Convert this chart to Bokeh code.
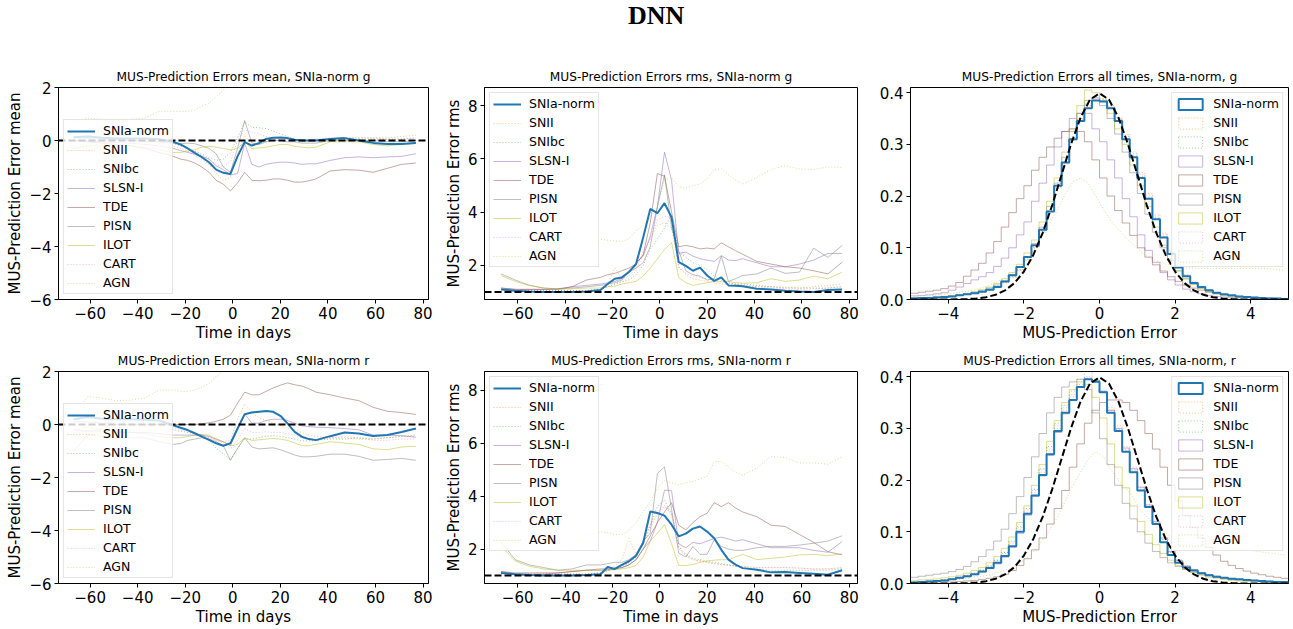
from bokeh.plotting import figure
from bokeh.models import (Legend, LegendItem, Span, FixedTicker, Div, Range1d,
                          CustomJSTickFormatter, PrintfTickFormatter)
from bokeh.layouts import column, row
from bokeh.embed import file_html
from bokeh.resources import INLINE

CLASSES = ["SNIa-norm", "SNII", "SNIbc", "SLSN-I", "TDE", "PISN", "ILOT", "CART", "AGN"]
COLORS = ["#1f77b4", "#ff7f0e", "#2ca02c", "#9467bd", "#8c564b", "#7f7f7f", "#bcbd22", "#e377c2", "#9acd32"]
DOTTED = ["SNII", "SNIbc", "CART", "AGN"]

DAYS = [-67, -61, -55, -49, -43, -37, -31, -25, -22, -19, -16, -13, -10, -7, -4,
        -1, 2, 5, 8, 11, 14, 17, 20, 23, 26, 29, 32, 35, 41, 47, 53, 59, 65, 71, 77]

# ---- mean, g ----
MEAN_G_SNIA = [0.12,0.15,0.10,0.08,0.08, 0.08,0.05,-0.05,-0.15,-0.30, -0.47,-0.63,-0.82,-1.10,-1.22, -1.26,-0.60,-0.06,-0.19,-0.10, 0.06,0.10,0.11,0.09,0.03, 0.00,0.00,0.00,0.06,0.09, 0.00,-0.09,-0.13,-0.13,-0.09]
MEAN_G_SNII = [-0.30,-0.10,-0.05,-0.05,-0.05, -0.05,-0.10,-0.20,-0.30,-0.40, -0.55,-0.70,-0.90,-1.25,-1.50, -1.40,-0.50,0.20,-0.20,-0.15, -0.05,0.00,0.05,0.05,0.00, -0.05,-0.05,0.00,0.05,0.10, 0.10,0.10,0.10,0.15,0.20]
MEAN_G_SNIBC = [0.00,0.00,0.00,0.00,0.00, -0.02,-0.05,-0.10,-0.20,-0.30, -0.40,-0.50,-0.65,-0.75,-0.70, -0.45,0.10,0.70,0.50,0.48, 0.45,0.35,0.25,0.15,0.05, 0.00,0.00,0.00,0.05,0.05, 0.05,0.05,0.05,0.05,0.10]
MEAN_G_SLSN = [0.00,-0.02,-0.05,-0.08,-0.10, -0.15,-0.20,-0.30,-0.38,-0.45, -0.52,-0.60,-0.70,-0.95,-1.10, -1.30,-1.25,-0.10,-0.90,-1.00, -0.90,-0.85,-0.82,-0.82,-0.85, -0.90,-0.88,-0.88,-0.75,-0.65, -0.62,-0.65,-0.62,-0.60,-0.50]
MEAN_G_TDE = [0.00,-0.05,-0.10,-0.15,-0.20, -0.30,-0.45,-0.60,-0.70,-0.75, -0.85,-1.00,-1.20,-1.50,-1.65, -1.90,-1.60,-1.20,-1.50,-1.52, -1.50,-1.45,-1.45,-1.50,-1.57, -1.57,-1.52,-1.45,-1.15,-1.10, -1.12,-1.20,-1.05,-0.90,-0.85]
MEAN_G_PISN = [0.10,0.08,0.05,0.03,0.00, -0.02,-0.05,-0.10,-0.12,-0.10, -0.12,-0.20,-0.30,-0.50,-1.00, -1.20,-0.30,0.75,-0.10,-0.15, -0.05,0.00,0.00,-0.05,-0.05, -0.10,-0.10,-0.10,0.00,0.00, 0.00,0.00,-0.05,-0.05,0.00]
MEAN_G_ILOT = [-0.30,-0.20,-0.20,-0.20,-0.20, -0.25,-0.35,-0.45,-0.45,-0.40, -0.35,-0.25,-0.22,-0.25,-0.30, -0.35,-0.30,-0.05,-0.30,-0.28, -0.25,-0.20,-0.15,-0.15,-0.22, -0.25,-0.28,-0.25,-0.05,-0.05, -0.05,-0.15,-0.20,-0.15,-0.10]
MEAN_G_CART = [0.00,0.00,0.00,0.00,0.00, -0.02,-0.05,-0.10,-0.20,-0.30, -0.42,-0.55,-0.70,-0.90,-1.00, -0.80,0.00,0.40,0.30,0.25, 0.15,0.10,0.10,0.05,0.00, 0.00,0.00,0.05,0.10,0.10, 0.10,0.10,0.05,0.05,0.10]
MEAN_G_AGN = [0.70,0.85,0.80,0.80,0.80, 0.85,1.10,1.10,1.10,1.10, 1.15,1.30,1.40,1.65,1.90, 2.20,2.60,3.00,3.00,3.00, 3.00,3.00,3.00,3.00,3.00, 3.00,3.00,3.00,3.00,3.00, 3.00,3.00,3.00,3.00,3.00]

# ---- mean, r ----
MEAN_R_SNIA = [0.20,0.28,0.22,0.20,0.20, 0.18,0.15,-0.03,-0.12,-0.21, -0.33,-0.46,-0.58,-0.71,-0.80, -0.71,-0.15,0.39,0.45,0.48, 0.51,0.48,0.33,0.04,-0.28, -0.46,-0.55,-0.59,-0.44,-0.30, -0.34,-0.43,-0.40,-0.28,-0.15]
MEAN_R_SNII = [-0.40,-0.20,-0.15,-0.12,-0.10, -0.08,-0.05,0.00,-0.10,-0.20, -0.30,-0.40,-0.50,-0.60,-0.65, -0.60,0.20,0.78,0.45,0.25, 0.15,0.05,-0.05,-0.15,-0.20, -0.30,-0.40,-0.45,-0.50,-0.50, -0.55,-0.55,-0.50,-0.45,-0.45]
MEAN_R_SNIBC = [-0.30,-0.25,-0.20,-0.20,-0.20, -0.20,-0.20,-0.20,-0.25,-0.30, -0.35,-0.40,-0.60,-0.90,-1.10, -1.35,-0.90,-0.55,-0.55,-0.50, -0.45,-0.42,-0.45,-0.50,-0.55, -0.62,-0.62,-0.60,-0.55,-0.55, -0.50,-0.55,-0.50,-0.45,-0.40]
MEAN_R_SLSN = [-0.20,-0.25,-0.25,-0.30,-0.30, -0.30,-0.35,-0.40,-0.40,-0.40, -0.40,-0.40,-0.45,-0.55,-0.65, -0.80,-0.20,0.40,0.05,0.05, 0.15,0.20,0.20,0.15,0.05, -0.05,-0.08,-0.10,-0.12,-0.15, -0.20,-0.40,-0.40,-0.42,-0.48]
MEAN_R_TDE = [0.10,0.10,0.05,0.00,0.00, 0.00,0.00,0.00,0.00,0.00, 0.00,0.03,0.06,0.12,0.20, 0.35,0.80,1.22,1.12,1.12, 1.25,1.38,1.48,1.57,1.50, 1.45,1.35,1.22,1.12,1.00, 0.90,0.65,0.50,0.45,0.38]
MEAN_R_PISN = [-1.00,-0.40,-0.45,-0.50,-0.50, -0.50,-0.65,-0.75,-0.72,-0.60, -0.55,-0.50,-0.55,-0.65,-0.80, -1.35,-0.90,-0.50,-0.85,-0.92, -0.90,-0.88,-0.95,-1.05,-1.15, -1.22,-1.22,-1.20,-1.12,-1.12, -1.20,-1.35,-1.32,-1.28,-1.35]
MEAN_R_ILOT = [-0.20,-0.10,-0.20,-0.25,-0.30, -0.35,-0.45,-0.50,-0.50,-0.45, -0.40,-0.38,-0.40,-0.55,-0.65, -0.80,-0.75,-0.50,-0.60,-0.58, -0.55,-0.53,-0.55,-0.60,-0.70, -0.80,-0.80,-0.75,-0.65,-0.70, -0.75,-0.92,-0.95,-0.85,-0.82]
MEAN_R_CART = [-0.10,-0.05,-0.05,-0.05,-0.05, -0.05,-0.05,-0.10,-0.20,-0.30, -0.35,-0.40,-0.50,-0.60,-0.70, -0.90,-0.60,-0.15,-0.30,-0.30, -0.28,-0.30,-0.30,-0.35,-0.40, -0.50,-0.55,-0.55,-0.50,-0.45, -0.50,-0.60,-0.60,-0.55,-0.55]
MEAN_R_AGN = [0.30,1.05,1.00,0.90,0.92, 1.00,1.30,1.30,1.25,1.25, 1.30,1.40,1.55,1.80,2.05, 2.40,3.00,3.00,3.00,3.00, 3.00,3.00,3.00,3.00,3.00, 3.00,3.00,3.00,3.00,3.00, 3.00,3.00,3.00,3.00,3.00]

# ---- rms, g ----
RMS_G_SNIA = [1.10,1.05,1.02,1.00,1.00, 1.00,1.02,1.08,1.30,1.50, 1.55,1.75,2.05,3.05,4.12, 3.96,4.34,3.80,2.12,1.98, 1.80,1.92,1.62,1.42,1.55, 1.25,1.24,1.22,1.12,1.10, 1.05,1.02,1.00,1.08,1.10]
RMS_G_SNII = [1.10,1.05,1.05,1.05,1.05, 1.05,1.05,1.10,1.30,1.90, 1.50,1.60,1.90,2.50,3.00, 3.50,3.60,3.40,1.95,1.65, 1.50,1.45,1.40,1.35,1.30, 1.30,1.28,1.25,1.20,1.20, 1.18,1.15,1.20,1.25,1.30]
RMS_G_SNIBC = [1.10,1.05,1.05,1.05,1.05, 1.05,1.05,1.10,1.20,1.30, 1.38,1.45,1.65,2.00,2.60, 3.00,3.40,3.90,2.50,2.30, 2.10,2.00,1.85,1.60,1.45, 1.35,1.30,1.30,1.25,1.20, 1.15,1.15,1.15,1.15,1.20]
RMS_G_SLSN = [1.15,1.10,1.10,1.10,1.10, 1.20,1.25,1.30,1.35,1.40, 1.50,1.80,2.10,2.35,3.10, 4.20,6.25,5.20,2.45,2.50, 2.35,2.25,2.20,2.15,2.37, 2.20,2.18,2.25,2.10,1.95, 1.95,2.05,2.20,2.45,2.45]
RMS_G_TDE = [1.15,1.10,1.10,1.10,1.12, 1.20,1.45,1.55,1.65,1.70, 1.80,1.90,2.05,2.40,3.60, 5.45,5.35,4.00,2.70,2.75, 2.70,2.62,2.65,2.62,2.85, 2.70,2.55,2.42,2.15,2.05, 1.95,1.90,1.80,1.68,2.12]
RMS_G_PISN = [1.68,1.45,1.25,1.15,1.12, 1.15,1.20,1.25,1.30,1.35, 1.45,1.75,1.90,2.10,2.70, 4.20,5.40,3.40,2.55,1.80, 1.65,1.60,1.45,1.50,2.35, 1.40,1.50,1.62,1.68,1.90, 1.70,1.75,2.65,2.30,2.75]
RMS_G_ILOT = [1.62,1.40,1.25,1.15,1.10, 1.12,1.15,1.15,1.20,1.22, 1.30,1.35,1.40,1.60,1.90, 2.25,2.60,2.85,1.55,1.35, 1.25,1.30,1.35,1.40,1.38, 1.40,1.35,1.33,1.35,1.50, 1.40,1.45,1.60,1.50,1.75]
RMS_G_CART = [1.10,1.05,1.05,1.05,1.05, 1.05,1.05,1.10,1.20,1.30, 1.40,1.50,1.80,2.40,3.00, 3.70,3.85,3.80,1.90,1.70, 1.60,1.55,1.50,1.45,1.40, 1.35,1.30,1.25,1.20,1.15, 1.12,1.10,1.12,1.15,1.20]
RMS_G_AGN = [2.55,2.45,2.35,2.30,2.30, 2.45,2.85,2.98,2.95,2.92, 2.90,3.00,3.30,3.50,3.80, 4.20,5.20,5.30,4.95,4.90, 5.00,5.05,5.25,5.60,5.62, 5.40,5.20,5.05,5.30,5.60, 5.75,5.62,5.60,5.70,5.68]

# ---- rms, r ----
RMS_R_SNIA = [1.10,1.05,1.02,1.00,1.00, 1.00,1.02,1.05,1.32,1.25, 1.40,1.54,1.75,2.23,3.42, 3.36,3.26,2.92,2.48,2.58, 2.77,2.85,2.66,2.41,1.97, 1.60,1.41,1.28,1.22,1.12, 1.13,1.10,1.07,1.03,1.20]
RMS_R_SNII = [1.10,1.05,1.05,1.05,1.05, 1.05,1.05,1.10,1.20,1.35, 1.60,2.40,1.80,2.20,2.80, 3.30,3.60,3.40,2.10,1.75, 1.60,1.55,1.50,1.45,1.42, 1.40,1.35,1.35,1.30,1.30, 1.30,1.28,1.25,1.25,1.30]
RMS_R_SNIBC = [1.10,1.05,1.05,1.05,1.05, 1.05,1.05,1.10,1.18,1.25, 1.35,1.45,1.70,2.30,2.90, 3.60,3.85,3.30,2.10,1.80, 1.65,1.60,1.55,1.50,1.45, 1.40,1.35,1.30,1.25,1.20, 1.20,1.20,1.20,1.20,1.25]
RMS_R_SLSN = [1.15,1.05,1.05,1.05,1.10, 1.15,1.20,1.20,1.22,1.25, 1.30,1.40,1.60,2.00,2.30, 3.00,4.22,4.20,2.20,2.05, 2.25,2.20,2.30,2.40,2.45, 2.38,2.30,2.35,2.20,2.05, 2.05,2.05,1.95,1.88,2.28]
RMS_R_TDE = [1.15,1.10,1.10,1.10,1.10, 1.15,1.20,1.25,1.25,1.25, 1.30,1.40,1.60,2.00,2.50, 3.00,3.40,3.75,2.90,2.72, 3.00,3.22,3.35,3.75,3.60, 3.75,3.55,3.40,3.22,2.90, 2.85,2.55,2.25,1.90,1.78]
RMS_R_PISN = [2.25,1.60,1.40,1.30,1.20, 1.25,1.40,1.40,1.45,1.50, 1.50,1.60,1.80,2.30,2.60, 4.85,5.10,3.50,1.85,1.70, 2.10,1.80,1.80,2.35,2.10, 2.00,1.95,1.95,2.05,2.10, 2.10,2.15,2.22,2.30,2.50]
RMS_R_ILOT = [2.10,1.55,1.35,1.25,1.20, 1.20,1.20,1.20,1.20,1.22, 1.25,1.30,1.38,1.70,2.30, 2.60,2.92,2.20,1.38,1.38, 1.42,1.50,1.55,1.58,1.60, 1.60,1.70,1.80,1.60,1.65, 1.70,1.78,1.80,1.75,1.82]
RMS_R_CART = [1.10,1.05,1.05,1.05,1.05, 1.05,1.05,1.10,1.18,1.30, 1.40,1.50,1.75,2.30,2.90, 3.40,3.65,3.30,2.00,1.75, 1.60,1.55,1.50,1.45,1.40, 1.38,1.35,1.35,1.30,1.30, 1.30,1.28,1.25,1.25,1.30]
RMS_R_AGN = [2.35,2.25,2.10,1.95,2.05, 2.20,2.50,2.65,2.62,2.55, 2.55,2.70,3.00,3.40,3.80, 4.30,4.60,4.50,4.42,4.50, 4.55,4.65,4.75,5.30,5.30, 5.10,4.90,4.78,5.05,5.50, 5.45,5.25,5.25,5.20,5.48]

# ---- histograms: bin edges -5..5 step 0.2, one height per bin ----
HIST_EDGES = [round(-5.0 + 0.2 * k, 2) for k in range(51)]
HIST_CENTERS = [round(-4.9 + 0.2 * k, 2) for k in range(50)]

HIST_G_SNIA = [.002,.003,.003,.004,.005,.006,.008,.010,.012,.015, .019,.024,.035,.047,.063,.082,.105,.135,.170,.220, .265,.310,.345,.370,.385,.383,.370,.345,.310,.275, .235,.195,.155,.120,.088,.062,.045,.032,.024,.018, .013,.010,.008,.006,.005,.004,.003,.002,.002,.001]
HIST_G_SNII = [.002,.003,.003,.004,.005,.006,.008,.010,.012,.015, .019,.024,.032,.042,.056,.075,.100,.130,.170,.215, .262,.308,.348,.375,.390,.388,.375,.352,.320,.285, .245,.205,.165,.128,.095,.068,.048,.034,.025,.018, .013,.010,.008,.006,.005,.004,.003,.002,.002,.001]
HIST_G_SNIBC = [.002,.003,.003,.004,.005,.006,.008,.010,.013,.016, .020,.026,.034,.044,.058,.078,.102,.133,.172,.218, .265,.312,.350,.378,.392,.388,.372,.348,.315,.278, .238,.198,.158,.122,.090,.064,.046,.033,.024,.018, .013,.010,.008,.006,.005,.004,.003,.002,.002,.001]
HIST_G_SLSN = [.007,.008,.009,.011,.013,.018,.024,.031,.038,.044, .052,.064,.080,.100,.125,.150,.190,.225,.260,.295, .325,.350,.360,.360,.330,.305,.270,.235,.195,.160, .125,.095,.072,.052,.038,.028,.020,.015,.011,.008, .006,.005,.004,.003,.003,.002,.002,.002,.001,.001]
HIST_G_TDE = [.012,.014,.016,.018,.021,.026,.033,.045,.057,.070, .090,.112,.140,.168,.195,.220,.250,.275,.295,.312, .325,.330,.325,.305,.270,.235,.200,.172,.148,.124, .100,.082,.067,.055,.044,.035,.028,.022,.018,.014, .011,.009,.007,.006,.005,.004,.003,.003,.002,.002]
HIST_G_PISN = [.003,.003,.004,.005,.006,.007,.009,.011,.014,.017, .022,.028,.036,.048,.062,.082,.108,.140,.180,.225, .275,.325,.360,.385,.390,.375,.350,.320,.285,.245, .205,.165,.130,.100,.075,.055,.040,.030,.022,.016, .012,.009,.007,.005,.004,.003,.003,.002,.002,.001]
HIST_G_ILOT = [.003,.004,.004,.005,.006,.008,.010,.012,.015,.019, .024,.031,.040,.052,.068,.090,.115,.150,.190,.235, .285,.330,.375,.405,.400,.385,.360,.330,.300,.260, .220,.180,.140,.105,.078,.056,.040,.029,.021,.015, .011,.008,.006,.005,.004,.003,.002,.002,.002,.001]
HIST_G_CART = [.002,.003,.003,.004,.005,.006,.008,.010,.012,.015, .019,.025,.033,.043,.057,.077,.101,.132,.171,.217, .264,.310,.348,.374,.388,.386,.373,.350,.318,.282, .242,.202,.162,.125,.092,.066,.047,.033,.024,.018, .013,.010,.008,.006,.005,.004,.003,.002,.002,.001]
HIST_G_AGN = [.006,.007,.008,.009,.010,.012,.014,.016,.019,.023, .028,.034,.042,.052,.065,.080,.100,.125,.150,.175, .205,.228,.235,.225,.200,.175,.152,.135,.120,.105, .092,.082,.075,.070,.066,.064,.062,.061,.060,.060, .060,.060,.060,.060,.060,.060,.060,.059,.058,.056]

HIST_R_SNIA = [.002,.003,.004,.005,.006,.008,.011,.014,.018,.023, .030,.040,.053,.072,.100,.135,.170,.210,.250,.295, .330,.355,.380,.395,.390,.370,.330,.295,.255,.215, .180,.148,.115,.080,.055,.040,.031,.025,.020,.016, .013,.011,.009,.008,.007,.006,.005,.004,.003,.003]
HIST_R_SNII = [.003,.004,.005,.006,.007,.009,.012,.015,.019,.025, .033,.044,.058,.078,.105,.138,.175,.215,.258,.300, .335,.362,.385,.398,.392,.372,.340,.305,.265,.225, .188,.152,.118,.088,.062,.045,.034,.026,.021,.017, .014,.011,.009,.008,.007,.006,.005,.004,.003,.003]
HIST_R_SNIBC = [.003,.004,.005,.006,.007,.009,.012,.016,.020,.026, .034,.045,.060,.082,.110,.145,.182,.222,.265,.310, .345,.372,.395,.410,.395,.370,.335,.298,.258,.218, .182,.148,.115,.085,.060,.044,.033,.026,.020,.016, .013,.011,.009,.008,.007,.006,.005,.004,.003,.003]
HIST_R_SLSN = [.002,.003,.004,.005,.006,.008,.010,.013,.017,.022, .029,.038,.051,.070,.097,.132,.168,.208,.248,.292, .328,.355,.380,.395,.392,.372,.335,.300,.262,.222, .186,.152,.120,.088,.062,.045,.034,.027,.021,.017, .014,.011,.009,.008,.007,.006,.005,.004,.003,.003]
HIST_R_TDE = [.002,.002,.002,.003,.003,.003,.004,.005,.006,.008, .010,.013,.018,.025,.035,.048,.065,.088,.115,.145, .180,.225,.270,.310,.335,.350,.355,.355,.350,.335, .315,.290,.260,.225,.190,.160,.132,.108,.088,.070, .055,.043,.035,.029,.024,.020,.017,.014,.012,.010]
HIST_R_PISN = [.012,.014,.016,.018,.020,.023,.027,.033,.042,.052, .065,.082,.105,.135,.168,.205,.245,.290,.330,.360, .380,.390,.395,.375,.330,.280,.230,.190,.155,.125, .100,.078,.062,.050,.040,.033,.027,.022,.018,.015, .012,.010,.008,.007,.006,.005,.004,.003,.003,.002]
HIST_R_ILOT = [.006,.007,.008,.009,.011,.013,.016,.020,.025,.031, .040,.052,.068,.090,.118,.150,.190,.230,.275,.315, .350,.375,.390,.385,.360,.320,.270,.225,.185,.150, .120,.095,.075,.058,.045,.035,.027,.021,.016,.012, .010,.008,.006,.005,.004,.004,.003,.003,.002,.002]
HIST_R_CART = [.003,.004,.005,.006,.007,.009,.012,.015,.020,.026, .034,.045,.060,.080,.108,.142,.180,.220,.262,.305, .340,.365,.388,.400,.392,.370,.335,.300,.260,.220, .185,.150,.117,.085,.060,.044,.033,.026,.020,.016, .013,.011,.009,.008,.007,.006,.005,.004,.003,.003]
HIST_R_AGN = [.003,.003,.004,.005,.006,.007,.008,.010,.012,.014, .017,.021,.026,.032,.040,.050,.065,.085,.105,.130, .160,.190,.215,.240,.255,.245,.220,.200,.185,.165, .140,.125,.110,.100,.090,.084,.080,.077,.074,.072, .070,.068,.067,.066,.065,.063,.061,.059,.057,.055]

# standard normal reference curve, tabulated
NORM_X = [-5.0,-4.75,-4.5,-4.25,-4.0,-3.75,-3.5,-3.25,-3.0,-2.75,-2.5,-2.25,-2.0,-1.75,-1.5,-1.25,-1.0,-0.75,-0.5,-0.25,
          0.0,0.25,0.5,0.75,1.0,1.25,1.5,1.75,2.0,2.25,2.5,2.75,3.0,3.25,3.5,3.75,4.0,4.25,4.5,4.75,5.0]
NORM_Y = [0.0,0.0,0.00002,0.00005,0.00013,0.00035,0.00087,0.00203,0.00443,0.00909,0.01753,0.03174,0.05399,0.08628,0.12952,0.18265,0.24197,0.30114,0.35207,0.38667,
          0.39894,0.38667,0.35207,0.30114,0.24197,0.18265,0.12952,0.08628,0.05399,0.03174,0.01753,0.00909,0.00443,0.00203,0.00087,0.00035,0.00013,0.00005,0.00002,0.0,0.0]

MEAN_G = [MEAN_G_SNIA, MEAN_G_SNII, MEAN_G_SNIBC, MEAN_G_SLSN, MEAN_G_TDE, MEAN_G_PISN, MEAN_G_ILOT, MEAN_G_CART, MEAN_G_AGN]
MEAN_R = [MEAN_R_SNIA, MEAN_R_SNII, MEAN_R_SNIBC, MEAN_R_SLSN, MEAN_R_TDE, MEAN_R_PISN, MEAN_R_ILOT, MEAN_R_CART, MEAN_R_AGN]
RMS_G = [RMS_G_SNIA, RMS_G_SNII, RMS_G_SNIBC, RMS_G_SLSN, RMS_G_TDE, RMS_G_PISN, RMS_G_ILOT, RMS_G_CART, RMS_G_AGN]
RMS_R = [RMS_R_SNIA, RMS_R_SNII, RMS_R_SNIBC, RMS_R_SLSN, RMS_R_TDE, RMS_R_PISN, RMS_R_ILOT, RMS_R_CART, RMS_R_AGN]
HIST_G = [HIST_G_SNIA, HIST_G_SNII, HIST_G_SNIBC, HIST_G_SLSN, HIST_G_TDE, HIST_G_PISN, HIST_G_ILOT, HIST_G_CART, HIST_G_AGN]
HIST_R = [HIST_R_SNIA, HIST_R_SNII, HIST_R_SNIBC, HIST_R_SLSN, HIST_R_TDE, HIST_R_PISN, HIST_R_ILOT, HIST_R_CART, HIST_R_AGN]

FONT = "DejaVu Sans"
INT_FMT = "return tick < 0 ? '\\u2212' + (-tick) : String(tick);"


def style(name):
    i = CLASSES.index(name)
    main = (i == 0)
    return dict(color=COLORS[i],
                width=2.0 if main else 1.0,
                alpha=1.0 if main else 0.5,
                dash="1 2" if name in DOTTED else "solid")


def base(width, height, mb, title, xr, yr, xticks, yticks, xlabel, ylabel, yfmt=None):
    p = figure(width=width, height=height, x_range=Range1d(*xr), y_range=Range1d(*yr),
               output_backend="svg", toolbar_location=None, title=title,
               min_border_left=mb[0], min_border_right=mb[1],
               min_border_top=mb[2], min_border_bottom=mb[3])
    p.title.text_font = FONT
    p.title.text_font_size = "12.2px"
    p.title.text_font_style = "normal"
    p.title.text_color = "black"
    p.title.align = "center"
    p.title.standoff = 8
    p.xgrid.visible = False
    p.ygrid.visible = False
    p.outline_line_color = "black"
    p.outline_line_alpha = 1.0
    p.outline_line_width = 1
    p.background_fill_color = "white"
    p.border_fill_color = "white"
    for ax, ticks, label, fmt in ((p.xaxis[0], xticks, xlabel, None), (p.yaxis[0], yticks, ylabel, yfmt)):
        ax.ticker = FixedTicker(ticks=ticks, minor_ticks=[])
        ax.formatter = fmt if fmt is not None else CustomJSTickFormatter(code=INT_FMT)
        ax.major_label_text_font = FONT
        ax.major_label_text_font_size = "15px"
        ax.major_label_text_color = "black"
        ax.major_label_standoff = 3
        ax.axis_label = label
        ax.axis_label_text_font = FONT
        ax.axis_label_text_font_size = "15px"
        ax.axis_label_text_font_style = "normal"
        ax.axis_label_text_color = "black"
        ax.axis_label_standoff = 2
        ax.major_tick_out = 4
        ax.major_tick_in = 0
        ax.minor_tick_out = 0
        ax.minor_tick_in = 0
        ax.axis_line_color = "black"
        ax.major_tick_line_color = "black"
    return p


def legend(p, items, location, gw):
    leg = Legend(items=items, location=location)
    leg.label_text_font = FONT
    leg.label_text_font_size = "12.5px"
    leg.label_text_color = "black"
    leg.glyph_width = gw
    leg.glyph_height = 14
    leg.label_height = 14
    leg.label_standoff = 8
    leg.spacing = 4
    leg.padding = 3
    leg.margin = 5
    leg.border_line_color = "#cccccc"
    leg.border_line_width = 1
    leg.background_fill_color = "white"
    leg.background_fill_alpha = 0.8
    p.add_layout(leg)


def time_panel(width, height, mb, title, series, yr, yticks, ylabel, ref, loc, xr):
    p = base(width, height, mb, title, xr, yr, [-60, -40, -20, 0, 20, 40, 60, 80], yticks,
             "Time in days", ylabel)
    rends = {}
    order = list(range(1, len(CLASSES))) + [0]
    for i in order:
        s = style(CLASSES[i])
        rends[i] = p.line(DAYS, series[i], line_color=s["color"], line_width=s["width"],
                          line_alpha=s["alpha"], line_dash=s["dash"])
    p.add_layout(Span(location=ref, dimension="width", line_color="black", line_width=2, line_dash="7 3"))
    items = [LegendItem(label=CLASSES[i], renderers=[rends[i]]) for i in range(len(CLASSES))]
    legend(p, items, loc, 28)
    return p


def hist_panel(width, height, mb, title, series):
    p = base(width, height, mb, title, (-5, 5), (0, 0.41), [-4, -2, 0, 2, 4], [0.0, 0.1, 0.2, 0.3, 0.4],
             "MUS-Prediction Error", None, PrintfTickFormatter(format="%.1f"))
    p.yaxis[0].axis_label = None
    items = []
    order = list(range(1, len(CLASSES))) + [0]
    for i in order:
        name = CLASSES[i]
        s = style(name)
        vals = series[i]
        if name == "AGN":
            p.line(HIST_CENTERS, vals, line_color=s["color"], line_width=s["width"],
                   line_alpha=s["alpha"], line_dash=s["dash"])
        else:
            p.step(HIST_EDGES, vals + [vals[-1]], mode="after", line_color=s["color"],
                   line_width=s["width"], line_alpha=s["alpha"], line_dash=s["dash"])
    p.line(NORM_X, NORM_Y, line_color="black", line_width=2, line_dash="7 3")
    # legend swatches: outline boxes placed outside the visible range
    for i, name in enumerate(CLASSES):
        s = style(name)
        q = p.quad(left=[20], right=[21], top=[1], bottom=[0], fill_color=None, line_color=s["color"],
                   line_width=s["width"], line_alpha=s["alpha"], line_dash=s["dash"])
        items.append(LegendItem(label=name, renderers=[q]))
    legend(p, items, "top_right", 30)
    return p


# layout: column borders (left, right), row borders (top, bottom)
W = [440, 430, 422]
LR = [(58, 12), (44, 13), (40, 4)]
H1, TB1 = 304, (47, 45)
H2, TB2 = 284, (27, 44)
XR_MEAN = (-73.3, 82.3)
XR_RMS = (-74.0, 83.5)

p1 = time_panel(W[0], H1, LR[0] + TB1, "MUS-Prediction Errors mean, SNIa-norm g", MEAN_G, (-6, 2),
                [-6, -4, -2, 0, 2], "MUS-Prediction Error mean", 0, "bottom_left", XR_MEAN)
p2 = time_panel(W[1], H1, LR[1] + TB1, "MUS-Prediction Errors rms, SNIa-norm g", RMS_G, (0.72, 8.68),
                [2, 4, 6, 8], "MUS-Prediction Error rms", 1, "top_left", XR_RMS)
p3 = hist_panel(W[2], H1, LR[2] + TB1, "MUS-Prediction Errors all times, SNIa-norm, g", HIST_G)
p4 = time_panel(W[0], H2, LR[0] + TB2, "MUS-Prediction Errors mean, SNIa-norm r", MEAN_R, (-6, 2),
                [-6, -4, -2, 0, 2], "MUS-Prediction Error mean", 0, "bottom_left", XR_MEAN)
p5 = time_panel(W[1], H2, LR[1] + TB2, "MUS-Prediction Errors rms, SNIa-norm r", RMS_R, (0.7, 8.7),
                [2, 4, 6, 8], "MUS-Prediction Error rms", 1, "top_left", XR_RMS)
p6 = hist_panel(W[2], H2, LR[2] + TB2, "MUS-Prediction Errors all times, SNIa-norm, r", HIST_R)

title_div = Div(text='<span style="position:absolute;left:628px;top:3px;'
                     'font-family:\'Liberation Serif\',serif;font-weight:bold;font-size:26px;'
                     'line-height:26px;color:black;white-space:nowrap;">DNN</span>',
                width=1292, height=40, margin=(0, 0, 0, 0), styles={"position": "relative"})

layout = column(title_div, row(p1, p2, p3), row(p4, p5, p6))

open("out.html", "w", encoding="utf-8").write(file_html(layout, INLINE, title="DNN"))
